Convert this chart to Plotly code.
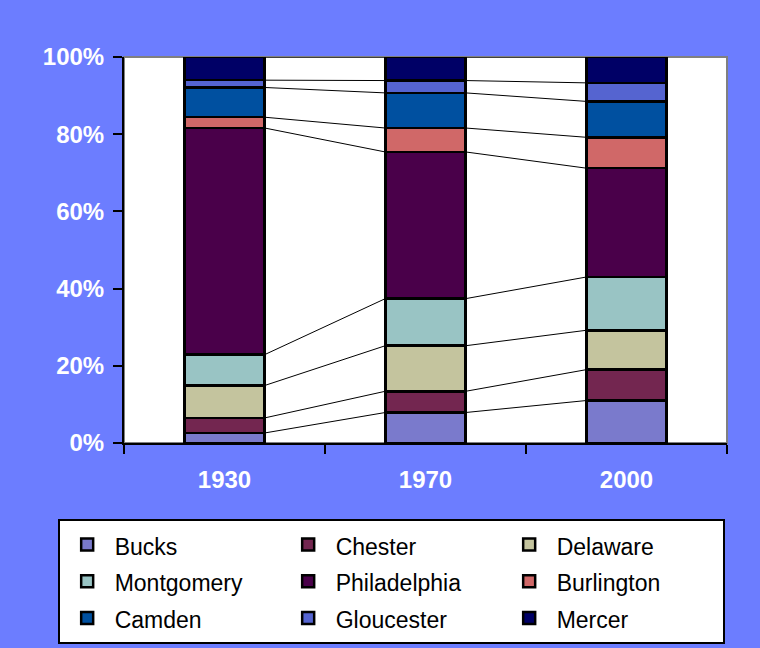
import plotly.graph_objects as go

years = ['1930', '1970', '2000']
counties = ['Bucks', 'Chester', 'Delaware', 'Montgomery', 'Philadelphia',
            'Burlington', 'Camden', 'Gloucester', 'Mercer']

# share of the region (%) per county
bucks = [2.6, 7.9, 11.0]
chester = [3.9, 5.5, 8.0]
delaware = [8.4, 11.8, 10.2]
montgomery = [8.0, 12.2, 13.8]
philadelphia = [58.7, 38.0, 28.2]
burlington = [2.8, 6.2, 8.0]
camden = [7.7, 9.1, 9.3]
gloucester = [1.9, 3.2, 4.8]
mercer = [6.0, 6.1, 6.7]

pct_ticks = [0, 20, 40, 60, 80, 100]
pct_labels = ['0%', '20%', '40%', '60%', '80%', '100%']

series = [bucks, chester, delaware, montgomery, philadelphia,
          burlington, camden, gloucester, mercer]
colors = ['#7a7acc', '#732650', '#c4c49e', '#99c4c4', '#4a004a',
          '#d06868', '#0050a0', '#5564d0', '#000066']

bg = '#6c7dff'
bar_w = 0.4
pos = list(range(len(years)))

# normalise each year to 100 %
totals = [sum(s[i] for s in series) for i in pos]
pct = [[s[i] / totals[i] * 100 for i in pos] for s in series]

fig = go.Figure()

for name, vals, col in zip(counties, pct, colors):
    fig.add_trace(go.Bar(
        x=pos, y=vals, width=bar_w,
        name='<span style="font-size:23px">%s</span>' % name,
        marker=dict(color=col, line=dict(color='black', width=2.5)),
    ))

# series lines joining the top of each segment
cum = [0.0] * len(years)
for vals in pct:
    cum = [c + v for c, v in zip(cum, vals)]
    xs, ys = [], []
    for i in pos[:-1]:
        xs += [i + bar_w / 2, i + 1 - bar_w / 2, None]
        ys += [cum[i], cum[i + 1], None]
    fig.add_trace(go.Scatter(x=xs, y=ys, mode='lines', showlegend=False,
                             hoverinfo='skip',
                             line=dict(color='black', width=1)))

# year labels on an overlaid axis, boundary ticks on the main one
fig.add_trace(go.Scatter(x=pos, y=[None] * 3, xaxis='x2', showlegend=False))

fig.update_layout(
    width=760, height=648,
    barmode='stack',
    paper_bgcolor=bg,
    plot_bgcolor='white',
    font=dict(family='Liberation Sans, Arial', color='white'),
    margin=dict(l=124, r=33, t=57, b=205, autoexpand=False),
    xaxis=dict(
        range=[-0.5, 2.5],
        tickvals=[-0.5, 0.5, 1.5, 2.5],
        showticklabels=False,
        ticks='outside', ticklen=9, tickwidth=2, tickcolor='black',
        showline=True, linecolor='black', linewidth=2,
        showgrid=False, zeroline=False,
    ),
    xaxis2=dict(
        overlaying='x', anchor='y', side='bottom',
        range=[-0.5, 2.5],
        tickvals=pos, ticktext=years,
        ticks='', showline=False, showgrid=False, zeroline=False,
        ticklabelstandoff=20,
        tickfont=dict(size=24, color='white', weight='bold'),
    ),
    yaxis=dict(
        range=[0, 100],
        tickvals=pct_ticks, ticktext=pct_labels,
        ticks='outside', ticklen=9, tickwidth=2, tickcolor='black',
        showline=True, linecolor='black', linewidth=2,
        showgrid=False, zeroline=False,
        ticklabelstandoff=4,
        tickfont=dict(size=24, color='white', weight='bold'),
    ),
    legend=dict(
        orientation='h',
        x=-0.11, xanchor='left',
        y=-0.197, yanchor='top',
        bgcolor='white', bordercolor='black', borderwidth=2,
        font=dict(size=26, color='black'),
        itemwidth=45,
        entrywidth=161, entrywidthmode='pixels',
        traceorder='normal',
    ),
    shapes=[dict(type='rect', xref='x domain', yref='y domain',
                 x0=0, x1=1, y0=0, y1=1, layer='below',
                 line=dict(color='#808080', width=2))],
)

fig.write_html('out.html', config={'displayModeBar': False},
               post_script="document.body.style.margin='0';")
